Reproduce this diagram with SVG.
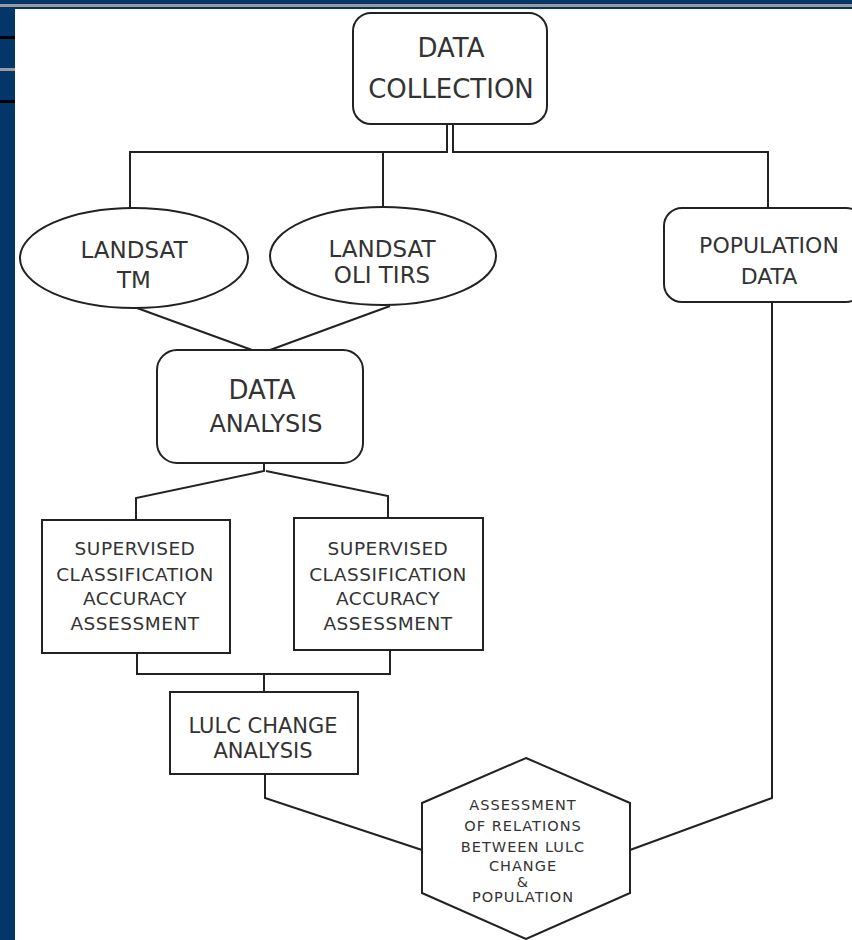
<svg xmlns="http://www.w3.org/2000/svg" width="852" height="940" viewBox="0 0 852 940">
<style>
.shape{fill:#fff;stroke:#222;stroke-width:2}
.conn{fill:none;stroke:#222;stroke-width:2}
text{font-family:"DejaVu Sans",sans-serif;fill:#333;text-anchor:middle}
.sup{font-size:18.5px;letter-spacing:0.5px}
.hex{font-size:14.5px;letter-spacing:1px}
</style>
<rect x="0" y="0" width="852" height="940" fill="#fff"/>
<g id="frame">
<rect x="0" y="0" width="852" height="9" fill="#03376a"/>
<rect x="0" y="4" width="852" height="3" fill="#9a9a9a"/>
<rect x="0" y="9" width="15" height="931" fill="#03376a"/>
<rect x="0" y="36" width="15" height="3" fill="#000"/>
<rect x="0" y="68" width="15" height="3" fill="#9a9a9a"/>
<rect x="0" y="100" width="15" height="3" fill="#000"/>
</g>
<g id="connectors">
<path class="conn" d="M447 124 V152 H130 V208 M383 152 V207"/>
<path class="conn" d="M453 124 V152 H768 V208"/>
<path class="conn" d="M137 308 L252 350 M390 306 L270 350"/>
<path class="conn" d="M264 463 V471 L136 498 V520 M266 471 L388 496 V518"/>
<path class="conn" d="M137 653 V674 H390 V650 M264 674 V692"/>
<path class="conn" d="M265 775 V798 L422 850"/>
<path class="conn" d="M772 302 V798 L630 850"/>
</g>
<g id="data-collection">
<rect class="shape" x="353" y="13" width="194" height="111" rx="18"/>
<text x="451" y="57" font-size="26">DATA</text>
<text x="451" y="98" font-size="26">COLLECTION</text>
</g>
<g id="landsat-tm">
<ellipse class="shape" cx="134" cy="258" rx="114" ry="50"/>
<text x="134" y="258" font-size="23">LANDSAT</text>
<text x="134" y="288" font-size="23">TM</text>
</g>
<g id="landsat-oli">
<ellipse class="shape" cx="383" cy="256" rx="113" ry="49"/>
<text x="382" y="257" font-size="23">LANDSAT</text>
<text x="382" y="283" font-size="23">OLI TIRS</text>
</g>
<g id="population-data">
<rect class="shape" x="664" y="208" width="200" height="94" rx="18"/>
<text x="769" y="253" font-size="22">POPULATION</text>
<text x="769" y="284" font-size="22">DATA</text>
</g>
<g id="data-analysis">
<rect class="shape" x="157" y="350" width="206" height="113" rx="20"/>
<text x="262" y="399" font-size="26">DATA</text>
<text x="266" y="432" font-size="24">ANALYSIS</text>
</g>
<g id="supervised-1">
<rect class="shape" x="42" y="520" width="188" height="133"/>
<text class="sup" x="135" y="555">SUPERVISED</text>
<text class="sup" x="135" y="581">CLASSIFICATION</text>
<text class="sup" x="135" y="605">ACCURACY</text>
<text class="sup" x="135" y="630">ASSESSMENT</text>
</g>
<g id="supervised-2">
<rect class="shape" x="294" y="518" width="189" height="132"/>
<text class="sup" x="388" y="555">SUPERVISED</text>
<text class="sup" x="388" y="581">CLASSIFICATION</text>
<text class="sup" x="388" y="605">ACCURACY</text>
<text class="sup" x="388" y="630">ASSESSMENT</text>
</g>
<g id="lulc-change">
<rect class="shape" x="170" y="692" width="188" height="82"/>
<text x="263" y="733" font-size="21">LULC CHANGE</text>
<text x="263" y="758" font-size="21">ANALYSIS</text>
</g>
<g id="assessment">
<polygon class="shape" points="526,758 630,803 630,893 526,939 422,893 422,803"/>
<text class="hex" x="523" y="810">ASSESSMENT</text>
<text class="hex" x="523" y="831">OF RELATIONS</text>
<text class="hex" x="523" y="852" letter-spacing="0.3">BETWEEN LULC</text>
<text class="hex" x="523" y="871">CHANGE</text>
<text class="hex" x="523" y="887">&amp;</text>
<text class="hex" x="523" y="902" letter-spacing="0.5">POPULATION</text>
</g>
</svg>
